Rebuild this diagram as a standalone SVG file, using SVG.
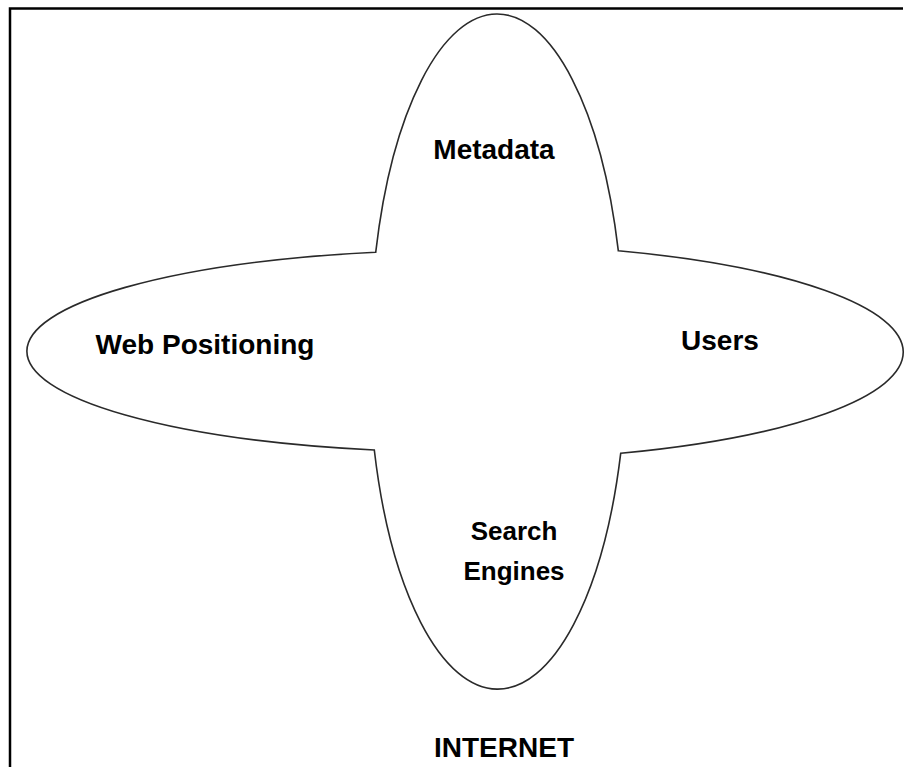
<svg xmlns="http://www.w3.org/2000/svg" width="907" height="767" viewBox="0 0 907 767">
<style>
.lbl{font-family:"Liberation Sans",Arial,sans-serif;font-weight:bold;font-size:28px;fill:#000;text-anchor:middle}
.sm{font-size:26px}
.shape{fill:none;stroke:#2a2a2a;stroke-width:1.6}
.frame{fill:none;stroke:#000;stroke-width:2.5}
</style>
<rect width="907" height="767" fill="#fff"/>
<g id="frame">
<path class="frame" d="M10,767 V8.5 H903"/>
</g>
<g id="cross">
<path class="shape" d="M375.7,252.3 A127,337.5 0 0 1 618.3,250.7 A439,108.3 0 0 1 620.7,453.3 A129,337.5 0 0 1 374.3,450 A438,101 0 0 1 375.7,252.3 Z"/>
</g>
<g id="node-metadata"><text class="lbl" x="494" y="159">Metadata</text></g>
<g id="node-web-positioning"><text class="lbl" x="205" y="354">Web Positioning</text></g>
<g id="node-users"><text class="lbl" x="720" y="350">Users</text></g>
<g id="node-search-engines"><text class="lbl sm" x="514" y="540">Search</text><text class="lbl sm" x="514" y="580">Engines</text></g>
<g id="label-internet"><text class="lbl" x="504" y="757">INTERNET</text></g>
<g id="connectors"></g>
</svg>
